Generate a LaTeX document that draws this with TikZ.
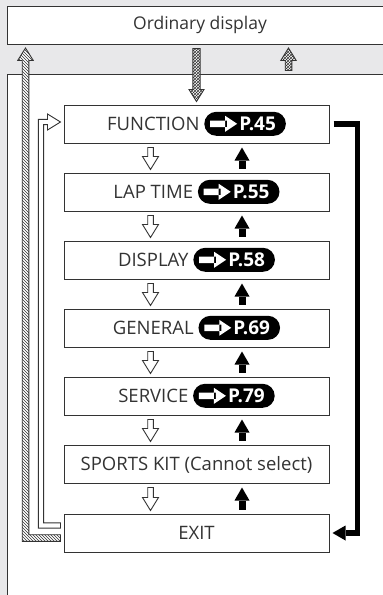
\documentclass[tikz,border=0pt]{standalone}
\usepackage{fontspec}
\setmainfont{Open Sans}
\usetikzlibrary{positioning,calc,arrows.meta,patterns}
\definecolor{panelgray}{RGB}{232,232,234}
\definecolor{inkgray}{RGB}{51,51,51}

\tikzset{badge/.style={draw=none,fill=black,text=white,font=\fontsize{19}{19}\bfseries\selectfont,
  rounded corners=12pt,minimum width=0pt,minimum height=24pt,inner xsep=0pt,inner ysep=0pt,
  text height=13.4pt,text depth=0pt}}

% black pill with white arrow and page number
\newcommand{\pref}[1]{\tikz[baseline=(pg.base),x=1pt,y=1pt]{%
  \node[badge] (pg) {\kern35pt P.#1\kern10pt};
  \fill[white] ($(pg.west)+(6,-3.2)$) rectangle ($(pg.west)+(23,3.2)$)
    ($(pg.west)+(21,-8)$) -- ($(pg.west)+(33,0)$) -- ($(pg.west)+(21,8)$) -- cycle;}}

% hollow down arrow between two menu boxes
\newcommand{\hollowdown}[2]{%
  \draw[hollow] ($(#1.south)+(-48.8,4)$) -- ($(#2.north)+(-48.8,-16)$) -- ($(#2.north)+(-54,-16)$)
    -- ($(#2.north)+(-46,-3)$) -- ($(#2.north)+(-38,-16)$) -- ($(#2.north)+(-43.2,-16)$)
    -- ($(#1.south)+(-43.2,4)$) -- cycle;}

\begin{document}
\begin{tikzpicture}[x=1pt,y=-1pt,
  ordbox/.style={draw=inkgray,line width=1pt,fill=white,minimum width=386pt,minimum height=38pt,
                 font=\fontsize{17.5}{20}\selectfont,text=inkgray},
  panel/.style={draw=inkgray,line width=1pt,fill=white,minimum width=386pt,minimum height=526pt},
  menu/.style={draw=inkgray,line width=1pt,fill=white,minimum width=265pt,minimum height=38pt,
               inner sep=0pt,text height=13pt,text depth=0pt,font=\fontsize{18.5}{20}\selectfont,text=inkgray},
  hollow/.style={draw=inkgray,line width=0.9pt,fill=white,line join=miter},
  hatched/.style={draw=inkgray,line width=0.9pt,preaction={fill=white},pattern=north west lines,pattern color=inkgray},
  checked/.style={draw=inkgray,line width=0.9pt,preaction={fill=white},pattern=crosshatch,pattern color=inkgray},
  uparr/.style={line width=7pt,-{Triangle[length=13pt,width=15pt,line width=0pt]},shorten <=4pt,shorten >=4pt},
  back/.style={line width=5.5pt,-{Triangle[length=13pt,width=15pt,line width=0pt]}}]
  \fill[panelgray] (0,0) rectangle (383,595);
  \useasboundingbox (0,0) rectangle (383,595);
  \node[ordbox] (ord) at (200,25) {Ordinary display};
  \node[panel] (panel) at (200,337) {};
  \node[menu] (fn)   at (196.5,124) {FUNCTION \pref{45}};
  \node[menu] (lap)  at (196.5,192) {LAP TIME \pref{55}};
  \node[menu] (disp) at (196.5,260) {DISPLAY \pref{58}};
  \node[menu] (gen)  at (196.5,328) {GENERAL \pref{69}};
  \node[menu] (svc)  at (196.5,396) {SERVICE \pref{79}};
  \node[menu] (kit)  at (196.5,464) {SPORTS KIT (Cannot select)};
  \node[menu] (exit) at (196.5,533) {EXIT};
  % down through the list, up back again
  \hollowdown{fn}{lap} \hollowdown{lap}{disp} \hollowdown{disp}{gen}
  \hollowdown{gen}{svc} \hollowdown{svc}{kit} \hollowdown{kit}{exit}
  \draw[uparr] ([xshift=45.5pt]lap.north) -- ([xshift=45.5pt]fn.south);
  \draw[uparr] ([xshift=45.5pt]disp.north) -- ([xshift=45.5pt]lap.south);
  \draw[uparr] ([xshift=45.5pt]gen.north) -- ([xshift=45.5pt]disp.south);
  \draw[uparr] ([xshift=45.5pt]svc.north) -- ([xshift=45.5pt]gen.south);
  \draw[uparr] ([xshift=45.5pt]kit.north) -- ([xshift=45.5pt]svc.south);
  \draw[uparr] ([xshift=45.5pt]exit.north) -- ([xshift=45.5pt]kit.south);
  \draw[back] ([xshift=4pt]fn.east) -- ++(24,0) |- ([xshift=3pt]exit.east);
  % EXIT back to FUNCTION
  \draw[hollow] ($(exit.west)+(-3,-10.1)$) -- ($(exit.west)+(-19.9,-10.1)$) -- ($(fn.west)+(-19.9,0.6)$)
    -- ($(fn.west)+(-16,0.6)$) -- ($(fn.west)+(-16,6)$) -- ($(fn.west)+(-3,-2)$) -- ($(fn.west)+(-16,-10)$)
    -- ($(fn.west)+(-16,-4.6)$) -- ($(fn.west)+(-25.1,-4.6)$) -- ($(exit.west)+(-25.1,-4.9)$)
    -- ($(exit.west)+(-3,-4.9)$) -- cycle;
  % EXIT back to ordinary display
  \draw[hatched] ($(ord.south west)+(19,3.5)$) -- ($(ord.south west)+(26.8,16)$) -- ($(ord.south west)+(22.3,16)$)
    -- ($(exit.west)+(-34.7,1.7)$) -- ($(exit.west)+(-3,1.7)$) -- ($(exit.west)+(-3,8.3)$)
    -- ($(exit.west)+(-41.3,8.3)$) -- ($(ord.south west)+(15.7,16)$) -- ($(ord.south west)+(11.2,16)$) -- cycle;
  % ordinary display to FUNCTION and back
  \draw[checked] ($(ord.south -| fn.north)+(-3.6,4)$) -- ($(fn.north)+(-3.6,-15)$) -- ($(fn.north)+(-7.5,-15)$)
    -- ($(fn.north)+(0,-3)$) -- ($(fn.north)+(7.5,-15)$) -- ($(fn.north)+(3.6,-15)$)
    -- ($(ord.south -| fn.north)+(3.6,4)$) -- cycle;
  \draw[checked] ($(panel.north)+(85.2,-3)$) -- ($(ord.south)+(85.2,16)$) -- ($(ord.south)+(80.8,16)$)
    -- ($(ord.south)+(88.5,3.5)$) -- ($(ord.south)+(96.2,16)$) -- ($(ord.south)+(91.8,16)$)
    -- ($(panel.north)+(91.8,-3)$) -- cycle;
\end{tikzpicture}
\end{document}
